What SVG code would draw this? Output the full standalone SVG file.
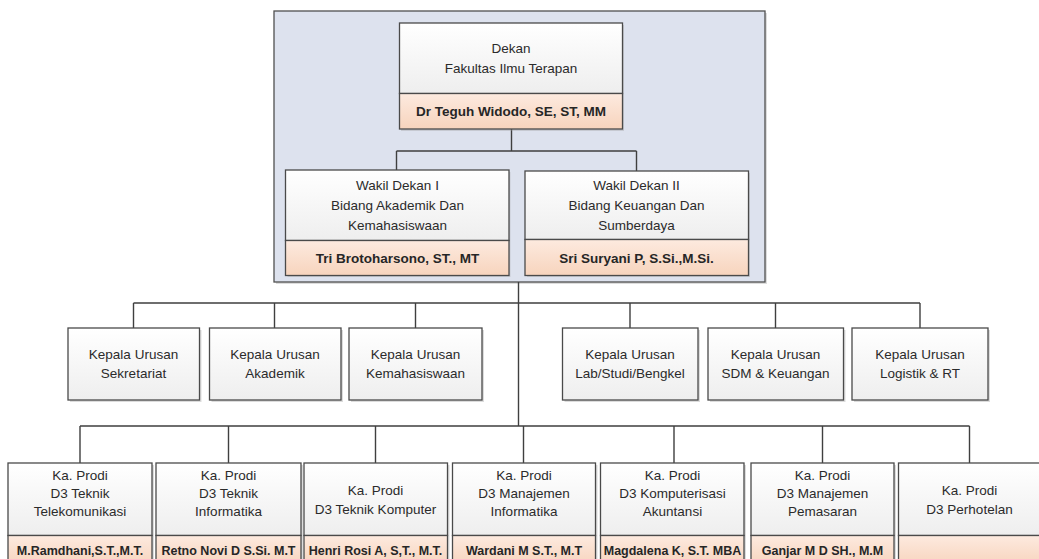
<svg xmlns="http://www.w3.org/2000/svg" width="1039" height="559" viewBox="0 0 1039 559">
<style>
  .bg { fill: #ffffff; }
  .outer { fill: #dde2ee; stroke: #505050; stroke-width: 1.3; }
  .box { fill: url(#gBox); stroke: #4a4a4a; stroke-width: 1.3; }
  .band { fill: url(#gBand); stroke: #4a4a4a; stroke-width: 1.3; }
  .shadow { fill: #9a9a9a; opacity: 0.35; }
  .conn { fill: none; stroke: #3f3f3f; stroke-width: 1.4; }
  .t { font-family: "Liberation Sans", Arial, sans-serif; font-size: 13.5px; fill: #2b2b2b; text-anchor: middle; }
  .n { font-family: "Liberation Sans", Arial, sans-serif; font-size: 13.5px; font-weight: bold; fill: #262626; text-anchor: middle; }
  .ns { font-family: "Liberation Sans", Arial, sans-serif; font-size: 12.5px; font-weight: bold; fill: #262626; text-anchor: middle; }
</style>
<defs>
  <linearGradient id="gBox" x1="0" y1="0" x2="0" y2="1">
    <stop offset="0" stop-color="#ffffff"/>
    <stop offset="1" stop-color="#eeeeee"/>
  </linearGradient>
  <linearGradient id="gBand" x1="0" y1="0" x2="0" y2="1">
    <stop offset="0" stop-color="#fdeadf"/>
    <stop offset="1" stop-color="#f7d4bd"/>
  </linearGradient>
</defs>
<rect class="bg" x="0" y="0" width="1039" height="559"/>

<g id="faculty-container">
  <rect class="shadow" x="276" y="13" width="491" height="271"/>
  <rect class="outer" x="274" y="11" width="491" height="271"/>
</g>

<g id="connectors">
  <path class="conn" d="M511.5 129 V151 M396.5 151 H636.5 M396.5 151 V170 M636.5 151 V171"/>
  <path class="conn" d="M518.5 282 V426 M133.5 303 H920 M133.5 303 V328 M274.5 303 V328 M415.5 303 V328 M630 303 V328 M775.5 303 V328 M920 303 V328"/>
  <path class="conn" d="M80 426 H969.5 M80 426 V463 M228.5 426 V463 M375.5 426 V463 M523.5 426 V463 M674 426 V463 M822.5 426 V463 M969.5 426 V463"/>
</g>

<g id="dekan">
  <rect class="shadow" x="401" y="25" width="223" height="106"/>
  <rect class="box" x="399.5" y="23" width="223" height="70.5"/>
  <rect class="band" x="399.5" y="93.5" width="223" height="35.5"/>
  <text class="t" x="511" y="53">Dekan</text>
  <text class="t" x="511" y="73">Fakultas Ilmu Terapan</text>
  <text class="n" x="511" y="115.5">Dr Teguh Widodo, SE, ST, MM</text>
</g>

<g id="wakil-dekan-1">
  <rect class="shadow" x="287.5" y="172" width="223" height="105"/>
  <rect class="box" x="285.5" y="170" width="223.5" height="70.5"/>
  <rect class="band" x="285.5" y="240.5" width="223.5" height="35"/>
  <text class="t" x="397.5" y="190">Wakil Dekan I</text>
  <text class="t" x="397.5" y="210">Bidang Akademik Dan</text>
  <text class="t" x="397.5" y="229.5">Kemahasiswaan</text>
  <text class="n" x="397.5" y="262.5">Tri Brotoharsono, ST., MT</text>
</g>

<g id="wakil-dekan-2">
  <rect class="shadow" x="527" y="173" width="223" height="104"/>
  <rect class="box" x="525" y="171" width="223.5" height="68.5"/>
  <rect class="band" x="525" y="239.5" width="223.5" height="36"/>
  <text class="t" x="636.5" y="190">Wakil Dekan II</text>
  <text class="t" x="636.5" y="210">Bidang Keuangan Dan</text>
  <text class="t" x="636.5" y="229.5">Sumberdaya</text>
  <text class="n" x="636.5" y="262.5">Sri Suryani P, S.Si.,M.Si.</text>
</g>

<g id="kaur-sekretariat">
  <rect class="shadow" x="70" y="330" width="131.5" height="72"/>
  <rect class="box" x="68" y="328" width="131.5" height="72"/>
  <text class="t" x="133.5" y="358.5">Kepala Urusan</text>
  <text class="t" x="133.5" y="378">Sekretariat</text>
</g>
<g id="kaur-akademik">
  <rect class="shadow" x="211.5" y="330" width="131.5" height="72"/>
  <rect class="box" x="209.5" y="328" width="131.5" height="72"/>
  <text class="t" x="275" y="358.5">Kepala Urusan</text>
  <text class="t" x="275" y="378">Akademik</text>
</g>
<g id="kaur-kemahasiswaan">
  <rect class="shadow" x="351" y="330" width="133" height="72"/>
  <rect class="box" x="349" y="328" width="133" height="72"/>
  <text class="t" x="415.5" y="358.5">Kepala Urusan</text>
  <text class="t" x="415.5" y="378">Kemahasiswaan</text>
</g>
<g id="kaur-lab">
  <rect class="shadow" x="564.5" y="330" width="135.5" height="72"/>
  <rect class="box" x="562.5" y="328" width="135.5" height="72"/>
  <text class="t" x="630" y="358.5">Kepala Urusan</text>
  <text class="t" x="630" y="378">Lab/Studi/Bengkel</text>
</g>
<g id="kaur-sdm">
  <rect class="shadow" x="710" y="330" width="135.5" height="72"/>
  <rect class="box" x="708" y="328" width="135.5" height="72"/>
  <text class="t" x="775.5" y="358.5">Kepala Urusan</text>
  <text class="t" x="775.5" y="378">SDM &amp; Keuangan</text>
</g>
<g id="kaur-logistik">
  <rect class="shadow" x="854" y="330" width="136" height="72"/>
  <rect class="box" x="852" y="328" width="136" height="72"/>
  <text class="t" x="920" y="358.5">Kepala Urusan</text>
  <text class="t" x="920" y="378">Logistik &amp; RT</text>
</g>

<g id="prodi-telekomunikasi">
  <rect class="shadow" x="10" y="465" width="144" height="100"/>
  <rect class="box" x="8" y="463" width="144" height="72.5"/>
  <rect class="band" x="8" y="535.5" width="144" height="30"/>
  <text class="t" x="80" y="479.5">Ka. Prodi</text>
  <text class="t" x="80" y="497.5">D3 Teknik</text>
  <text class="t" x="80" y="515.5">Telekomunikasi</text>
  <text class="ns" x="80" y="554.5">M.Ramdhani,S.T.,M.T.</text>
</g>
<g id="prodi-informatika">
  <rect class="shadow" x="158" y="465" width="145" height="100"/>
  <rect class="box" x="156" y="463" width="145" height="72.5"/>
  <rect class="band" x="156" y="535.5" width="145" height="30"/>
  <text class="t" x="228.5" y="479.5">Ka. Prodi</text>
  <text class="t" x="228.5" y="497.5">D3 Teknik</text>
  <text class="t" x="228.5" y="515.5">Informatika</text>
  <text class="ns" x="228.5" y="554.5">Retno Novi D S.Si. M.T</text>
</g>
<g id="prodi-komputer">
  <rect class="shadow" x="306" y="465" width="143.5" height="100"/>
  <rect class="box" x="304" y="463" width="143.5" height="72.5"/>
  <rect class="band" x="304" y="535.5" width="143.5" height="30"/>
  <text class="t" x="375.5" y="494.5">Ka. Prodi</text>
  <text class="t" x="375.5" y="514">D3 Teknik Komputer</text>
  <text class="ns" x="375.5" y="554.5">Henri Rosi A, S,T., M.T.</text>
</g>
<g id="prodi-manajemen-informatika">
  <rect class="shadow" x="454.5" y="465" width="143" height="100"/>
  <rect class="box" x="452.5" y="463" width="143" height="72.5"/>
  <rect class="band" x="452.5" y="535.5" width="143" height="30"/>
  <text class="t" x="524" y="479.5">Ka. Prodi</text>
  <text class="t" x="524" y="497.5">D3 Manajemen</text>
  <text class="t" x="524" y="515.5">Informatika</text>
  <text class="ns" x="524" y="554.5">Wardani M S.T., M.T</text>
</g>
<g id="prodi-komputerisasi-akuntansi">
  <rect class="shadow" x="602.5" y="465" width="143.5" height="100"/>
  <rect class="box" x="600.5" y="463" width="143.5" height="72.5"/>
  <rect class="band" x="600.5" y="535.5" width="143.5" height="30"/>
  <text class="t" x="672.5" y="479.5">Ka. Prodi</text>
  <text class="t" x="672.5" y="497.5">D3 Komputerisasi</text>
  <text class="t" x="672.5" y="515.5">Akuntansi</text>
  <text class="ns" x="672.5" y="554.5">Magdalena K, S.T. MBA</text>
</g>
<g id="prodi-manajemen-pemasaran">
  <rect class="shadow" x="753" y="465" width="143" height="100"/>
  <rect class="box" x="751" y="463" width="143" height="72.5"/>
  <rect class="band" x="751" y="535.5" width="143" height="30"/>
  <text class="t" x="822.5" y="479.5">Ka. Prodi</text>
  <text class="t" x="822.5" y="497.5">D3 Manajemen</text>
  <text class="t" x="822.5" y="515.5">Pemasaran</text>
  <text class="ns" x="822.5" y="554.5">Ganjar M D SH., M.M</text>
</g>
<g id="prodi-perhotelan">
  <rect class="shadow" x="900.5" y="465" width="142" height="100"/>
  <rect class="box" x="898.5" y="463" width="142" height="72.5"/>
  <rect class="band" x="898.5" y="535.5" width="142" height="30"/>
  <text class="t" x="969.5" y="494.5">Ka. Prodi</text>
  <text class="t" x="969.5" y="514">D3 Perhotelan</text>
</g>
</svg>
